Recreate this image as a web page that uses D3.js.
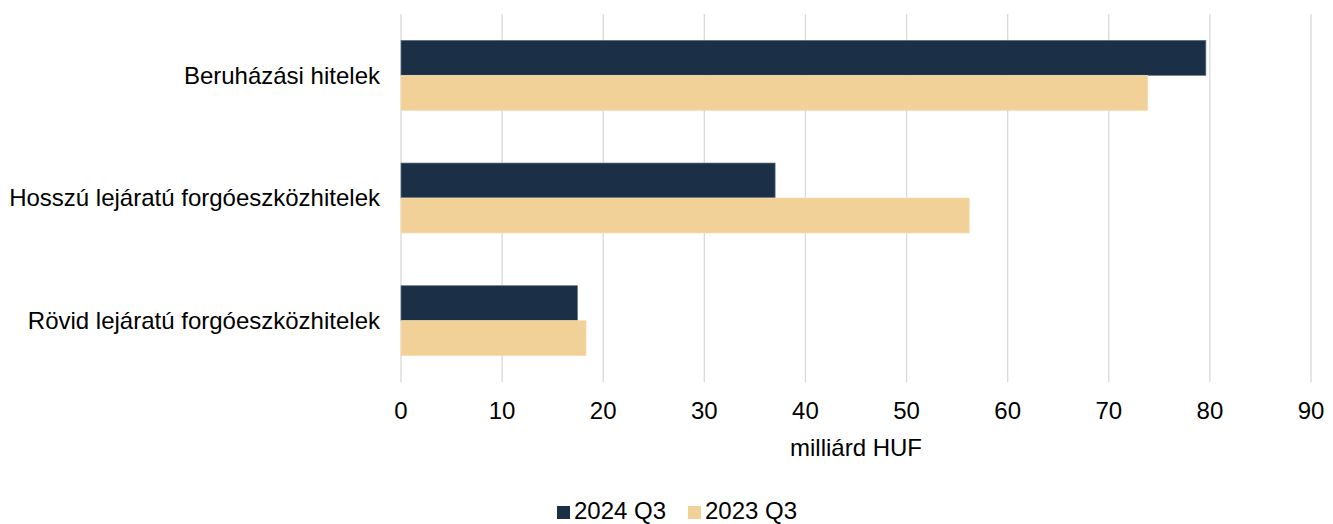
<!DOCTYPE html>
<html><head><meta charset="utf-8">
<script src="https://cdn.jsdelivr.net/npm/d3@7"></script>
<style>body{margin:0;background:#fff;}svg{display:block;font-family:"Liberation Sans",Arial,sans-serif;}</style>
</head><body>
<svg id="c" width="1333" height="524"></svg>
<script>
const categories = ["Beruházási hitelek", "Hosszú lejáratú forgóeszközhitelek", "Rövid lejáratú forgóeszközhitelek"];
const seriesNames = ["2024 Q3", "2023 Q3"];
const values2024 = [79.6, 37.0, 17.45];
const values2023 = [73.85, 56.2, 18.3];
const xTicks = [0,10,20,30,40,50,60,70,80,90];
const colors = ["#1b3047", "#f2d199"];
const axisTitle = "milliárd HUF";

(function(){
const svg = d3.select("#c");
const mL = 401, mR = 1311, mT = 14, mB = 382;
const fs = 24;
const x = d3.scaleLinear().domain([0, 90]).range([mL, mR]);
const y = d3.scaleBand().domain(categories).range([mT, mB]).paddingInner(0.43).paddingOuter(0.215);
const ys = d3.scaleBand().domain(seriesNames).range([0, y.bandwidth()]);

svg.append("g").selectAll("line").data(xTicks).join("line")
  .attr("x1", d => x(d)).attr("x2", d => x(d)).attr("y1", mT).attr("y2", mB)
  .attr("stroke", "#d9d9d9").attr("stroke-width", 1.3);

const series = [values2024, values2023];
series.forEach((vals, si) => {
  svg.append("g").selectAll("rect").data(categories).join("rect")
    .attr("x", x(0))
    .attr("y", (c) => y(c) + ys(seriesNames[si]))
    .attr("width", (c, i) => x(vals[i]) - x(0))
    .attr("height", ys.bandwidth())
    .attr("fill", colors[si])
    .attr("stroke", si === 0 ? "#5d6f80" : "#f5dcae")
    .attr("stroke-width", 0.7);
});

svg.append("g").selectAll("text").data(xTicks).join("text")
  .attr("x", d => x(d)).attr("y", 419).attr("text-anchor", "middle")
  .attr("font-size", fs).attr("fill", "#000").text(d => d);

svg.append("text").attr("x", 856).attr("y", 456).attr("text-anchor", "middle")
  .attr("font-size", fs).attr("fill", "#000").text(axisTitle);

svg.append("g").selectAll("text").data(categories).join("text")
  .attr("x", 380).attr("y", c => y(c) + y.bandwidth() / 2).attr("dy", "0.35em")
  .attr("text-anchor", "end").attr("font-size", fs).attr("fill", "#000").text(c => c);

const legendItems = [{x: 557, name: seriesNames[0], color: colors[0]}, {x: 688, name: seriesNames[1], color: colors[1]}];
const lg = svg.append("g");
legendItems.forEach(it => {
  lg.append("rect").attr("x", it.x).attr("y", 506).attr("width", 13).attr("height", 13).attr("fill", it.color);
  lg.append("text").attr("x", it.x + 17).attr("y", 519).attr("font-size", fs).attr("fill", "#000").text(it.name);
});
})();
</script>
</body></html>
